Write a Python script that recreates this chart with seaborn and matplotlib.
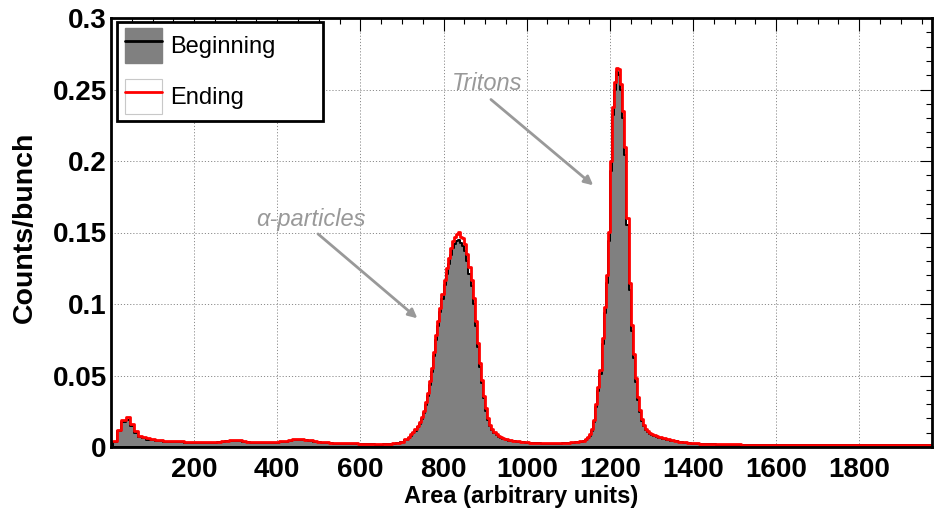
import numpy as np
import pandas as pd
import matplotlib
matplotlib.use("Agg")
import matplotlib.pyplot as plt
from matplotlib.patches import Patch, Rectangle
from matplotlib.lines import Line2D
from matplotlib.ticker import MultipleLocator, FuncFormatter
import seaborn as sns

# Binning: 10-unit bins, refined to 5 units under the two peaks
# (start edge, stop edge, bin width)
bin_segments = [(5, 715, 10), (715, 965, 5), (965, 1135, 10),
                (1135, 1315, 5), (1315, 1975, 10)]

# Counts per bunch, one value per bin, in the order of the segments above
beginning = [
    # 10 - 100
    0.0035, 0.011, 0.0175, 0.019, 0.0145, 0.0098, 0.0072, 0.006, 0.0052, 0.0047,
    # 110 - 200
    0.0043, 0.004, 0.0038, 0.0036, 0.0034, 0.0033, 0.0032, 0.0031, 0.003, 0.003,
    # 210 - 300
    0.0029, 0.0029, 0.0029, 0.0029, 0.003, 0.0032, 0.0035, 0.0039, 0.0042, 0.0043,
    # 310 - 400
    0.0041, 0.0037, 0.0033, 0.003, 0.0028, 0.0027, 0.0027, 0.0028, 0.0029, 0.0031,
    # 410 - 500
    0.0034, 0.0038, 0.0043, 0.0048, 0.0051, 0.005, 0.0046, 0.0041, 0.0036, 0.0032,
    # 510 - 600
    0.0029, 0.0027, 0.0025, 0.0024, 0.0023, 0.0022, 0.0021, 0.0021, 0.002, 0.002,
    # 610 - 710
    0.0019, 0.0018, 0.0018, 0.0017, 0.0017, 0.0018, 0.002, 0.0023, 0.0027, 0.0034,
    0.0048,
    # alpha peak, 717.5 - 962.5
    0.0064, 0.0079, 0.0095, 0.0115, 0.0137, 0.0163, 0.0194, 0.0237, 0.0295, 0.0358,
    0.0435, 0.0527, 0.0635, 0.0748, 0.0848, 0.0942, 0.1035, 0.1132, 0.1210, 0.1278,
    0.1345, 0.1393, 0.1422, 0.1440, 0.1450, 0.1425, 0.1405, 0.1370, 0.1302, 0.1213,
    0.1125, 0.0998, 0.0843, 0.0697, 0.0562, 0.0447, 0.0341, 0.0255, 0.0188, 0.0145,
    0.0116, 0.0097, 0.0084, 0.0073, 0.0064, 0.0058, 0.0053, 0.0048, 0.0045, 0.0042,
    # 970 - 1130
    0.0039, 0.0035, 0.0032, 0.0029, 0.0027, 0.0026, 0.0025, 0.0024, 0.0024, 0.0023,
    0.0023, 0.0024, 0.0025, 0.0027, 0.0029, 0.0032, 0.0036,
    # triton peak, 1137.5 - 1312.5
    0.0041, 0.0050, 0.0062, 0.0080, 0.0115, 0.0176, 0.0280, 0.0395, 0.0510, 0.0720,
    0.0935, 0.1150, 0.1440, 0.1930, 0.2320, 0.2500, 0.2620, 0.2600, 0.2500, 0.2300,
    0.2040, 0.1550, 0.1100, 0.0810, 0.0620, 0.0455, 0.0330, 0.0245, 0.0183, 0.0145,
    0.0119, 0.0104, 0.0093, 0.0083, 0.0076, 0.0069,
    # 1320 - 1400
    0.0062, 0.0055, 0.0049, 0.0043, 0.0039, 0.0034, 0.0030, 0.0027, 0.0024,
    # 1410 - 1500
    0.0022, 0.0021, 0.002, 0.0019, 0.0018, 0.0017, 0.0017, 0.0016, 0.0016, 0.0016,
    # 1510 - 1600
    0.0016, 0.0015, 0.0015, 0.0015, 0.0015, 0.0015, 0.0014, 0.0014, 0.0014, 0.0014,
    # 1610 - 1700
    0.0014, 0.0014, 0.0014, 0.0013, 0.0013, 0.0013, 0.0013, 0.0013, 0.0013, 0.0013,
    # 1710 - 1800
    0.0013, 0.0013, 0.0012, 0.0012, 0.0012, 0.0012, 0.0012, 0.0012, 0.0012, 0.0012,
    # 1810 - 1900
    0.0012, 0.0012, 0.0012, 0.0011, 0.0011, 0.0011, 0.0011, 0.0011, 0.0011, 0.0011,
    # 1910 - 1970
    0.0011, 0.0011, 0.0011, 0.0011, 0.0011, 0.0011, 0.0011,
]

ending = [
    # 10 - 100
    0.004, 0.012, 0.019, 0.021, 0.016, 0.011, 0.008, 0.0068, 0.006, 0.0055,
    # 110 - 200
    0.005, 0.0047, 0.0045, 0.0043, 0.0041, 0.004, 0.0039, 0.0038, 0.0037, 0.0036,
    # 210 - 300
    0.0036, 0.0035, 0.0035, 0.0035, 0.0036, 0.0038, 0.004, 0.0044, 0.0047, 0.0048,
    # 310 - 400
    0.0046, 0.0042, 0.0038, 0.0035, 0.0033, 0.0032, 0.0032, 0.0033, 0.0034, 0.0036,
    # 410 - 500
    0.0039, 0.0043, 0.0048, 0.0053, 0.0056, 0.0055, 0.0051, 0.0046, 0.0041, 0.0037,
    # 510 - 600
    0.0034, 0.0032, 0.003, 0.0029, 0.0028, 0.0027, 0.0026, 0.0025, 0.0025, 0.0024,
    # 610 - 710
    0.0023, 0.0022, 0.0021, 0.002, 0.002, 0.0021, 0.0023, 0.0026, 0.003, 0.0038,
    0.0055,
    # alpha peak, 717.5 - 962.5
    0.0072, 0.0088, 0.0105, 0.0127, 0.0150, 0.0178, 0.0210, 0.0255, 0.0315, 0.0380,
    0.0460, 0.0555, 0.0665, 0.0780, 0.0880, 0.0975, 0.1070, 0.1170, 0.1250, 0.1320,
    0.1390, 0.1440, 0.1470, 0.1490, 0.1505, 0.1470, 0.1465, 0.1420, 0.1350, 0.1260,
    0.1170, 0.1040, 0.0880, 0.0730, 0.0590, 0.0470, 0.0360, 0.0270, 0.0200, 0.0155,
    0.0125, 0.0105, 0.0092, 0.0080, 0.0071, 0.0064, 0.0059, 0.0054, 0.0050, 0.0047,
    # 970 - 1130
    0.0043, 0.0039, 0.0035, 0.0032, 0.0030, 0.0029, 0.0028, 0.0027, 0.0027, 0.0026,
    0.0026, 0.0027, 0.0028, 0.0030, 0.0032, 0.0035, 0.0040,
    # triton peak, 1137.5 - 1312.5
    0.0045, 0.0055, 0.0068, 0.0088, 0.0125, 0.0190, 0.0300, 0.0420, 0.0540, 0.0760,
    0.0980, 0.1200, 0.1500, 0.2000, 0.2380, 0.2550, 0.2650, 0.2640, 0.2540, 0.2350,
    0.2100, 0.1600, 0.1150, 0.0850, 0.0650, 0.0480, 0.0350, 0.0260, 0.0195, 0.0155,
    0.0128, 0.0112, 0.0100, 0.0090, 0.0082, 0.0075,
    # 1320 - 1400
    0.0068, 0.0060, 0.0053, 0.0047, 0.0042, 0.0037, 0.0033, 0.0030, 0.0027,
    # 1410 - 1500
    0.0025, 0.0023, 0.0022, 0.0021, 0.002, 0.0019, 0.0019, 0.0018, 0.0018, 0.0018,
    # 1510 - 1600
    0.0018, 0.0017, 0.0017, 0.0017, 0.0017, 0.0017, 0.0016, 0.0016, 0.0016, 0.0016,
    # 1610 - 1700
    0.0016, 0.0016, 0.0016, 0.0015, 0.0015, 0.0015, 0.0015, 0.0015, 0.0015, 0.0015,
    # 1710 - 1800
    0.0015, 0.0015, 0.0014, 0.0014, 0.0014, 0.0014, 0.0014, 0.0014, 0.0014, 0.0014,
    # 1810 - 1900
    0.0014, 0.0014, 0.0014, 0.0013, 0.0013, 0.0013, 0.0013, 0.0013, 0.0013, 0.0013,
    # 1910 - 1970
    0.0013, 0.0013, 0.0013, 0.0013, 0.0013, 0.0013, 0.0013,
]

series_labels = ["Beginning", "Ending"]
x_ticks = [0, 200, 400, 600, 800, 1000, 1200, 1400, 1600, 1800]
x_tick_labels = ["", "200", "400", "600", "800", "1000", "1200", "1400", "1600", "1800"]
y_ticks = [0, 0.05, 0.1, 0.15, 0.2, 0.25, 0.3]

# Bin edges and centres from the segment table
edges = [float(bin_segments[0][0])]
for start, stop, width in bin_segments:
    edges.extend(float(e) for e in np.arange(start + width, stop + 0.5 * width, width))
edges = np.array(edges)
centres = 0.5 * (edges[:-1] + edges[1:])

spectra = pd.DataFrame({"area": centres, "beginning": beginning, "ending": ending})
bin_edges = [float(e) for e in edges]

sns.set_theme(style="white")
plt.rcParams["font.family"] = ["Liberation Sans", "DejaVu Sans"]
plt.rcParams.update({"text.color": "black", "axes.labelcolor": "black",
                     "xtick.color": "black", "ytick.color": "black"})

fig = plt.figure(figsize=(9.34, 5.15), dpi=100)
ax = fig.add_axes([111 / 934, 68 / 515, 821 / 934, 429 / 515])

sns.histplot(data=spectra, x="area", weights="beginning", bins=bin_edges,
             element="step", fill=True, color="#808080", edgecolor="black",
             linewidth=1.4, alpha=1, ax=ax, zorder=2)
sns.histplot(data=spectra, x="area", weights="ending", bins=bin_edges,
             element="step", fill=False, color="#ff0000", linewidth=2.0,
             ax=ax, zorder=3)

ax.set_xlim(0, 1975)
ax.set_ylim(0, 0.3)

ax.set_xticks(x_ticks)
ax.set_xticklabels(x_tick_labels)
ax.set_yticks(y_ticks)
ax.yaxis.set_major_formatter(FuncFormatter(lambda v, p: f"{v:g}"))
ax.xaxis.set_minor_locator(MultipleLocator(50))
ax.yaxis.set_minor_locator(MultipleLocator(0.01))

ax.tick_params(which="both", direction="in", top=True, right=True,
               color="black", labelcolor="black", width=0.8)
ax.tick_params(which="major", length=9)
ax.tick_params(which="minor", length=4.5)
ax.tick_params(axis="x", which="major", labelsize=20, pad=7)
ax.tick_params(axis="y", which="major", labelsize=20, pad=3)
for lbl in ax.get_xticklabels() + ax.get_yticklabels():
    lbl.set_fontweight("bold")

ax.grid(True, which="major", color="#8c8c8c", linestyle=(0, (1.2, 2.0)),
        linewidth=0.7, zorder=0)
ax.set_axisbelow(True)

for side in ["left", "bottom", "top", "right"]:
    ax.spines[side].set_visible(True)
    ax.spines[side].set_color("black")
    ax.spines[side].set_linewidth(2.0)
    ax.spines[side].set_zorder(5)

ax.set_xlabel("Area (arbitrary units)", fontsize=17, fontweight="bold",
              color="black", labelpad=2)
ax.set_ylabel("Counts/bunch", fontsize=20.5, fontweight="bold", color="black")
ax.yaxis.set_label_coords(-0.089, 0.513)

# Peak annotations
note_color = "#999999"
ax.text(905, 0.254, "Tritons", fontsize=17, style="italic", color=note_color,
        ha="center", va="center", zorder=4)
ax.annotate("", xy=(1160, 0.183), xytext=(914, 0.243),
            arrowprops=dict(arrowstyle="-|>", color=note_color, lw=2,
                            mutation_scale=13, shrinkA=0, shrinkB=0), zorder=4)
ax.text(480, 0.159, "α-particles", fontsize=17, style="italic", color=note_color,
        ha="center", va="center", zorder=4)
ax.annotate("", xy=(737, 0.090), xytext=(498, 0.149),
            arrowprops=dict(arrowstyle="-|>", color=note_color, lw=2,
                            mutation_scale=13, shrinkA=0, shrinkB=0), zorder=4)

# Legend: fixed-size framed box with the entries placed inside
legend_box = Rectangle((0.0073, 0.7599), 0.2509, 0.2308, transform=ax.transAxes,
                       facecolor="white", edgecolor="black", linewidth=2.0,
                       zorder=6)
ax.add_patch(legend_box)
h_begin = (Patch(facecolor="#808080", edgecolor="#808080"),
           Line2D([], [], color="black", lw=2))
h_end = (Patch(facecolor="white", edgecolor="#c8c8c8", lw=0.8),
         Line2D([], [], color="#ff0000", lw=2))
leg = ax.legend([h_begin, h_end], series_labels, loc="upper left",
                bbox_to_anchor=(0.0170, 0.9767), fontsize=17, frameon=False,
                handlelength=1.57, handleheight=1.9, labelspacing=0.68,
                handletextpad=0.35, borderpad=0, borderaxespad=0,
                labelcolor="black")
leg.set_zorder(7)

fig.savefig("out.png", dpi=100)
